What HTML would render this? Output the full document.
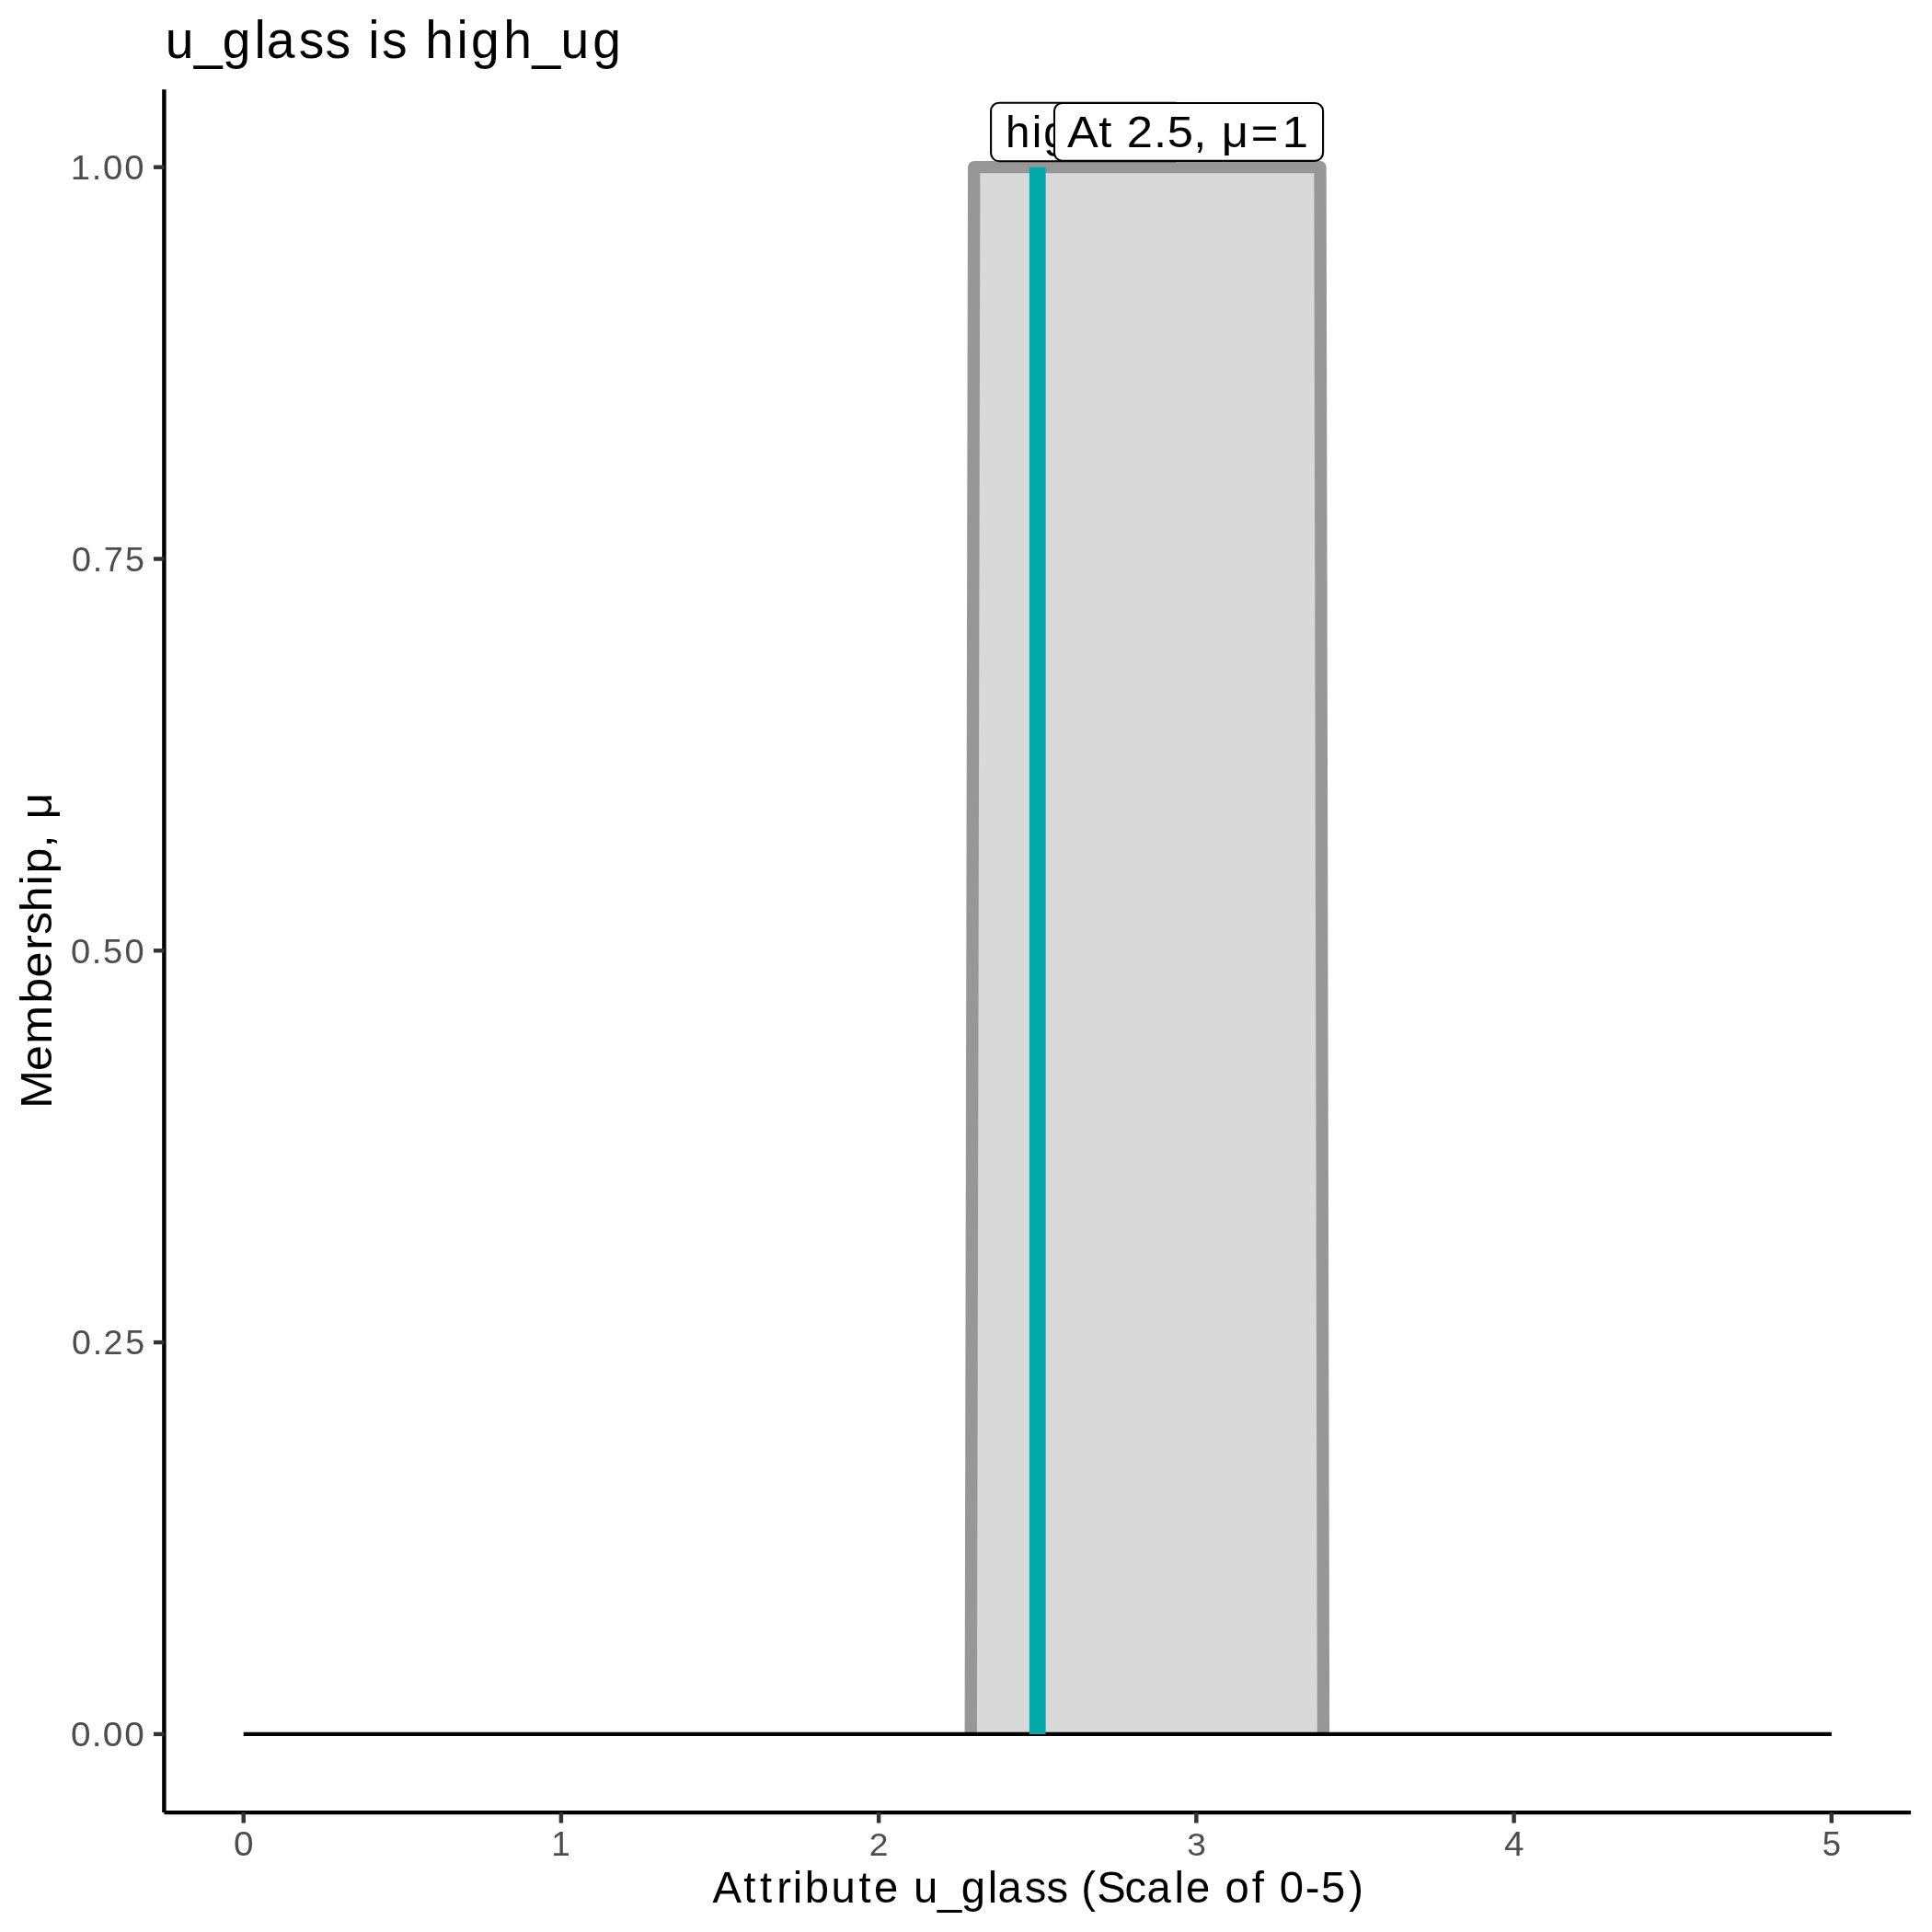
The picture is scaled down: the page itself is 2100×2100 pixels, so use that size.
<!DOCTYPE html>
<html><head><meta charset="utf-8"><title>u_glass is high_ug</title><style>html,body{margin:0;padding:0;background:#fff;width:2100px;height:2100px;overflow:hidden}svg{display:block;will-change:transform}text{font-family:"Liberation Sans",sans-serif}</style></head><body>
<svg width="2100" height="2100" viewBox="0 0 2100 2100">
<rect x="0" y="0" width="2100" height="2100" fill="#fff"/>
<polygon points="1055.25,1884.90 1058.71,181.70 1435.00,181.70 1438.45,1884.90" fill="#D9D9D9"/>
<polyline points="1055.25,1884.90 1058.71,181.70 1435.00,181.70 1438.45,1884.90" fill="none" stroke="#979797" stroke-width="13.34" stroke-linejoin="round"/>
<line x1="264.70" y1="1884.90" x2="1990.80" y2="1884.90" stroke="#000" stroke-width="4.44"/>
<line x1="1127.75" y1="1884.90" x2="1127.75" y2="181.70" stroke="#00AAAA" stroke-width="17.78"/>
<rect x="1077.10" y="111.70" width="209.50" height="63.50" rx="8.8" ry="8.8" fill="#fff" stroke="#000" stroke-width="2.1"/>
<text transform="translate(1091.76,159.85) scale(1.0078,1)" x="1.24 29.74 42.21 71.21 96.92 122.38 150.90" y="0 0 0 0 1.28 0 0" font-size="47.20" fill="#000" >high_ug</text>
<rect x="1146.00" y="112.00" width="292.10" height="62.90" rx="8.8" ry="8.8" fill="#fff" stroke="#000" stroke-width="2.1"/>
<text transform="translate(1161.34,159.85) scale(1.0751,1)" x="-1.24 30.65 45.65 58.93 86.28 99.80 126.33 140.07 154.87 184.54 216.17" y="0 0 0 0 0 0 0 0 0 1.26 0" font-size="47.20" fill="#000" >At 2.5, μ=1</text>
<line x1="178.4" y1="97.2" x2="178.4" y2="1970.1" stroke="#000" stroke-width="4.44"/>
<line x1="178.4" y1="1970.1" x2="2077.1" y2="1970.1" stroke="#000" stroke-width="4.44"/>
<line x1="166.94" y1="1884.90" x2="178.40" y2="1884.90" stroke="#333" stroke-width="4.44"/>
<line x1="166.94" y1="1459.10" x2="178.40" y2="1459.10" stroke="#333" stroke-width="4.44"/>
<line x1="166.94" y1="1033.30" x2="178.40" y2="1033.30" stroke="#333" stroke-width="4.44"/>
<line x1="166.94" y1="607.50" x2="178.40" y2="607.50" stroke="#333" stroke-width="4.44"/>
<line x1="166.94" y1="181.70" x2="178.40" y2="181.70" stroke="#333" stroke-width="4.44"/>
<line x1="264.70" y1="1970.10" x2="264.70" y2="1981.56" stroke="#333" stroke-width="4.44"/>
<line x1="609.92" y1="1970.10" x2="609.92" y2="1981.56" stroke="#333" stroke-width="4.44"/>
<line x1="955.14" y1="1970.10" x2="955.14" y2="1981.56" stroke="#333" stroke-width="4.44"/>
<line x1="1300.36" y1="1970.10" x2="1300.36" y2="1981.56" stroke="#333" stroke-width="4.44"/>
<line x1="1645.58" y1="1970.10" x2="1645.58" y2="1981.56" stroke="#333" stroke-width="4.44"/>
<line x1="1990.80" y1="1970.10" x2="1990.80" y2="1981.56" stroke="#333" stroke-width="4.44"/>
<text transform="translate(75.99,1898.20) scale(1.0750,1)" x="0.83 22.10 33.37 55.08" y="0 0 0 0" font-size="36.02" fill="#4D4D4D" >0.00</text>
<text transform="translate(76.76,1472.40) scale(1.0443,1)" x="1.15 22.90 34.19 56.86" y="0 0 0 0" font-size="36.02" fill="#4D4D4D" >0.25</text>
<text transform="translate(75.99,1046.60) scale(1.0563,1)" x="1.02 22.59 34.01 56.23" y="0 0 0 0" font-size="36.02" fill="#4D4D4D" >0.50</text>
<text transform="translate(76.76,620.80) scale(1.0489,1)" x="1.10 22.78 34.38 56.56" y="0 0 0 0" font-size="36.02" fill="#4D4D4D" >0.75</text>
<text transform="translate(75.99,195.00) scale(1.0611,1)" x="0.79 22.46 33.94 55.93" y="0 0 0 0" font-size="36.02" fill="#4D4D4D" >1.00</text>
<text transform="translate(253.04,2017.30) scale(1.0733,1)" x="0.85" y="0" font-size="36.02" fill="#4D4D4D" >0</text>
<text transform="translate(597.93,2017.30) scale(1.0250,1)" x="1.19" y="0" font-size="36.02" fill="#4D4D4D" >1</text>
<text transform="translate(943.97,2017.30) scale(1.0345,1)" x="0.78" y="0" font-size="36.02" fill="#4D4D4D" >2</text>
<text transform="translate(1288.77,2017.30) scale(1.0307,1)" x="1.34" y="0" font-size="36.02" fill="#4D4D4D" >3</text>
<text transform="translate(1634.05,2017.30) scale(1.0734,1)" x="0.84" y="0" font-size="36.02" fill="#4D4D4D" >4</text>
<text transform="translate(1979.32,2017.30) scale(1.0129,1)" x="1.35" y="0" font-size="36.02" fill="#4D4D4D" >5</text>
<text transform="translate(177.73,62.90) scale(0.9587,1)" x="2.03 34.79 66.85 103.03 116.84 153.48 183.37 212.33 232.16 247.43 276.39 296.82 332.58 348.73 385.54 418.13 450.41 486.55" y="0 1.43 0 0 0 0 0 0 0 0 0 0 0 0 0 1.43 0 0" font-size="57.64" fill="#000" >u_glass is high_ug</text>
<text transform="translate(774.64,2068.00) scale(0.9874,1)" x="-0.15 33.96 52.11 70.40 88.11 101.51 130.47 160.85 177.71 205.17 221.13 247.56 273.44 302.84 313.72 343.36 367.47 391.18 405.73 422.91 453.53 477.90 508.24 521.00 548.46 564.02 593.58 607.78 623.89 652.32 669.85 700.35" y="0 0 0 0 0 0 0 0 0 0 0 1.18 0 0 0 0 0 0 0 0 0 0 0 0 0 0 0 0 0 0.2 0 0" font-size="47.89" fill="#000" >Attribute u_glass (Scale of 0-5)</text>
<text transform="translate(55.80,1203.69) rotate(-90) scale(1.0463,1)" x="-1.09 37.89 66.00 107.90 135.04 163.50 179.38 202.96 230.87 243.03 269.80 283.84 299.28" y="0 0 0 0 0 0 0 0 0 0 0 0 0" font-size="47.89" fill="#000" >Membership, μ</text>
</svg>
</body></html>
